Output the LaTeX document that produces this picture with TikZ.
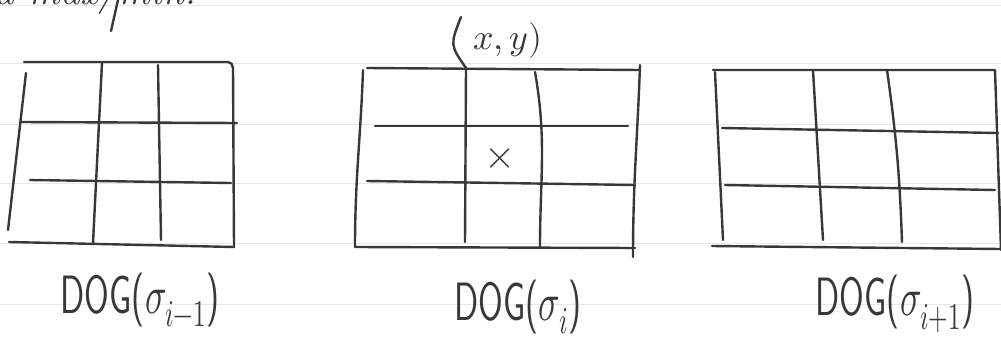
\documentclass[tikz,border=0pt]{standalone}
\usepackage{fontspec}
\usepackage{unicode-math}
\setmathfont{Latin Modern Math}
\begin{document}
\begin{tikzpicture}[x=1pt,y=-1pt,
  ink/.style={draw=black!78,line width=2.4pt,line cap=round,line join=round},
  rule/.style={draw=black!9,line width=1pt},
  lab/.style={text=black!78,font=\sffamily\fontsize{54}{60}\selectfont,inner sep=0pt,xscale=0.66}]
\useasboundingbox (0,0) rectangle (1001,343);
\clip (0,0) rectangle (1001,343);
% notebook rules
\foreach \yy in {5,63,124,183,243,304} \draw[rule] (0,\yy) -- (1001,\yy);
% cut-off text at top
\node[text=black!78,font=\itshape\fontsize{40}{44}\selectfont,anchor=base west,inner sep=0pt] (top) at (-6,4) {a max/min.};
\draw[ink] (118,0) -- (111,31);
% grid 1
\draw[ink] (24,62) -- (228,62) to[out=0,in=90] (233,68) -- (234,247) -- (9,242);
\draw[ink] (26,73) -- (8,230);
\draw[ink] (21,122) -- (237,123);
\draw[ink] (30,180) -- (231,183);
\draw[ink] (102,63) -- (93,243);
\draw[ink] (158,65) -- (161,240);
\node[lab] (l1) at (140,300) {DOG($\sigma_{i-1}$)};
% grid 2
\draw[ink] (367,68) -- (640,70);
\draw[ink] (363,70) to[out=-92,in=90] (355,247) -- (635,248);
\draw[ink] (640,65) to[out=-92,in=90] (633,257);
\draw[ink] (375,126) -- (628,126);
\draw[ink] (367,181) -- (635,185);
\draw[ink] (466,68) -- (465,242);
\draw[ink] (535,72) to[out=-80,in=90] (540,247);
\draw[ink] (466,68) .. controls (450,45) .. (461,17);
\node[text=black!78,font=\fontsize{36}{40}\selectfont,inner sep=0pt] (xy) at (508,40) {$x,y)$};
\node[text=black!78,font=\fontsize{40}{40}\selectfont,inner sep=0pt] (mark) at (500,159) {$\times$};
\node[lab] (l2) at (518,307) {DOG($\sigma_{i}$)};
% grid 3
\draw[ink] (713,70) -- (995,70) -- (1001,250);
\draw[ink] (715,72) -- (723,240);
\draw[ink] (712,246) -- (1001,249);
\draw[ink] (722,128) -- (998,133);
\draw[ink] (725,185) -- (995,190);
\draw[ink] (813,70) -- (823,240);
\draw[ink] (887,70) to[out=-82,in=92] (902,242);
\node[lab] (l3) at (895,304) {DOG($\sigma_{i+1}$)};
\end{tikzpicture}
\end{document}
